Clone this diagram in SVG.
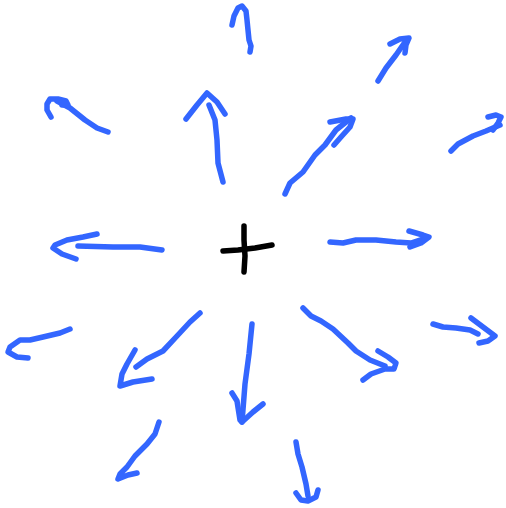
<svg xmlns="http://www.w3.org/2000/svg" width="506" height="508" viewBox="0 0 506 508">
<style>
.s{fill:none;stroke:#3366ff;stroke-width:5.5;stroke-linecap:round;stroke-linejoin:round}
.k{fill:none;stroke:#000;stroke-width:5.5;stroke-linecap:round;stroke-linejoin:round}
</style>
<rect width="506" height="508" fill="#fff"/>
<g id="plus">
<polyline class="k" points="244,226 244,240 245,256 244,272"/>
<polyline class="k" points="223,251 238,250 255,248 272,245"/>
</g>
<g id="arrows">
<g id="a-top"><polyline class="s" points="232,25 234,16 238,8 242,6 246,11 247,20 248,30 249,40 251,46 250,52"/></g>
<g id="a-nw"><polyline class="s" points="108,132 97,128 85,120 70,108 57,101"/><polyline class="s" points="51,117 47,110 47,104 50,99 58,99 66,101 68,105 62,105"/></g>
<g id="a-up"><polyline class="s" points="223,182 218,163 217,140 215,120 209,105"/><polyline class="s" points="186,119 197,105 207,93 217,102 225,114"/></g>
<g id="a-left"><polyline class="s" points="162,250 140,247 113,247 78,246"/><polyline class="s" points="97,234 83,237 67,240 55,245 53,248 62,254 76,259"/></g>
<g id="a-ne1"><polyline class="s" points="378,81 386,68 396,55 405,42"/><polyline class="s" points="390,44 400,39 409,38 406,45 405,53"/></g>
<g id="a-ne2"><polyline class="s" points="285,194 290,183 303,172 315,155 325,145 336,130 351,118"/><polyline class="s" points="330,122 346,119 353,119 350,127 341,137 334,145"/></g>
<g id="a-ene"><polyline class="s" points="451,151 458,144 473,136 486,131 500,125"/><polyline class="s" points="488,117 496,115 501,117 498,123 493,130"/></g>
<g id="a-right"><polyline class="s" points="330,242 343,243 356,240 376,240 396,242 411,243 423,239"/><polyline class="s" points="409,231 423,235 429,237 421,243 410,247"/></g>
<g id="a-wsw"><polyline class="s" points="70,329 60,333 43,337 30,340 20,340 10,347 8,352 17,357 28,358"/></g>
<g id="a-sw1"><polyline class="s" points="200,313 190,322 177,336 163,351 147,359 136,367"/><polyline class="s" points="135,350 127,364 122,374 120,386 133,382 152,379"/></g>
<g id="a-sw2"><polyline class="s" points="159,422 155,434 147,444 135,456 127,467 120,474 118,479 128,475 137,473"/></g>
<g id="a-down"><polyline class="s" points="252,324 249,354 245,384 242,422"/><polyline class="s" points="232,393 237,401 240,420 242,422 253,412 263,404"/></g>
<g id="a-se"><polyline class="s" points="303,308 311,316 321,321 333,329 348,343 356,351 370,360 385,366"/><polyline class="s" points="378,351 388,357 396,363 394,369 385,369 371,374 363,380"/></g>
<g id="a-ese"><polyline class="s" points="433,324 443,327 456,328 470,330 478,334"/><polyline class="s" points="471,318 483,327 495,336 488,341 479,343"/></g>
<g id="a-down2"><polyline class="s" points="296,442 298,454 302,467 306,484 308,496"/><polyline class="s" points="296,493 301,500 308,501 316,497 318,490"/></g>
</g>
</svg>
